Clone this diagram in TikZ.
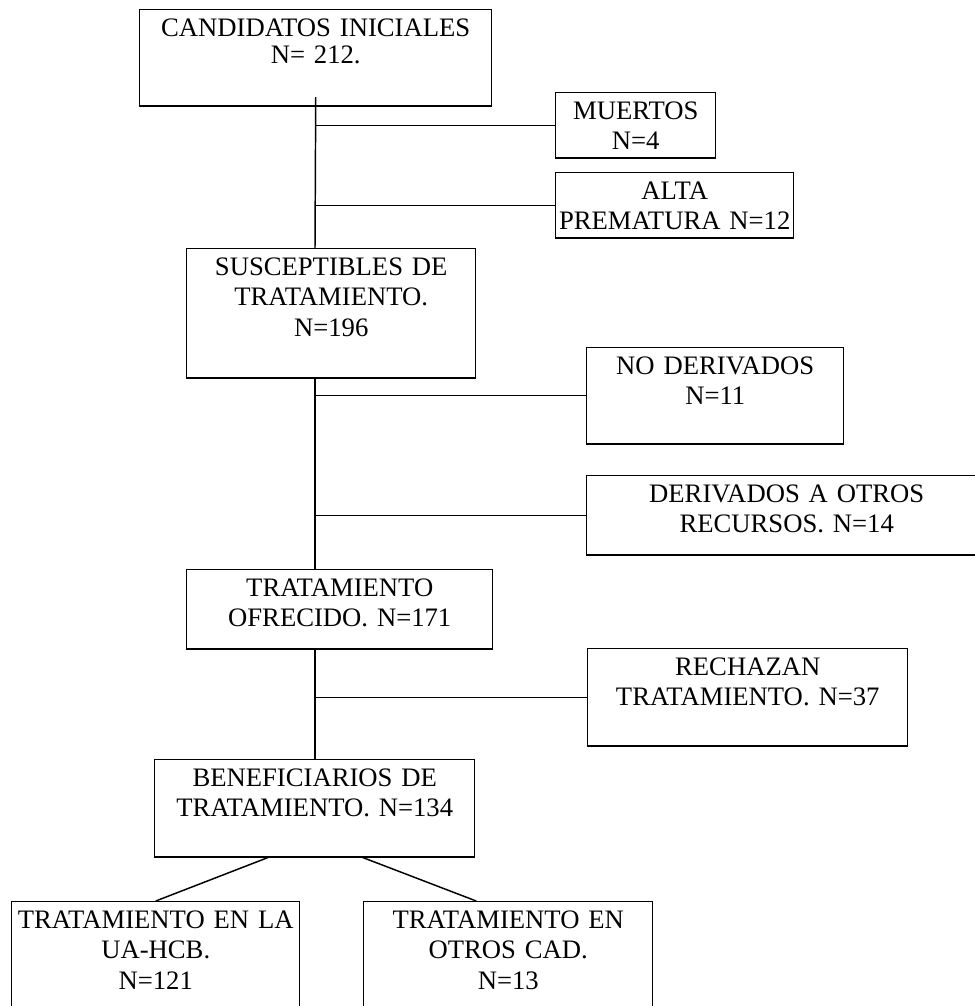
\documentclass[tikz,border=0pt]{standalone}
\usepackage{fontspec}
\setmainfont{Liberation Serif}
\usetikzlibrary{positioning,calc}

\begin{document}
\begin{tikzpicture}[x=0.75pt, y=-0.75pt,
    caja/.style 2 args={draw, line width=1.1pt, anchor=north west,
        inner xsep=0pt, inner ysep=0pt, align=center,
        text width=#1*0.75pt, text height=19.9pt, text depth=(#2-26.5)*0.75pt,
        font=\fontsize{20pt}{23pt}\selectfont},
    linea/.style={line width=1.1pt}]

    % Page size
    \useasboundingbox (0,0) rectangle (974,1006);

    % Main column
    \node[caja={352}{96}, font=\fontsize{20pt}{20.3pt}\selectfont] (cand) at (139,9) {CANDIDATOS INICIALES\\N= 212.};
    \node[caja={289}{129}] (susc) at (186,248) {SUSCEPTIBLES DE\\TRATAMIENTO.\\N=196};
    \node[caja={306}{79}] (ofre) at (186,569) {TRATAMIENTO\\OFRECIDO. N=171};
    \node[caja={320}{97}] (benef) at (154,759) {BENEFICIARIOS DE\\TRATAMIENTO. N=134};

    % Exclusions on the right
    \node[caja={160}{65}] (muer) at (555,92) {MUERTOS\\N=4};
    \node[caja={238}{65}] (alta) at (555,172) {ALTA\\PREMATURA N=12};
    \node[caja={257}{96}] (noder) at (586,347) {NO DERIVADOS\\N=11};
    \node[caja={400}{79}] (deriv) at (586,475) {DERIVADOS A OTROS\\RECURSOS. N=14};
    \node[caja={320}{97}] (rech) at (587,648) {RECHAZAN\\TRATAMIENTO. N=37};

    % Final split
    \node[caja={288}{120}] (ua) at (11,901) {TRATAMIENTO EN LA\\UA-HCB.\\N=121};
    \node[caja={289}{120}] (otros) at (363,901) {TRATAMIENTO EN\\OTROS CAD.\\N=13};

    % Vertical line
    \coordinate (eje) at (315,0);
    \draw[linea] ([yshift=7pt]cand.south) -- (eje |- susc.north);
    \draw[linea] (eje |- susc.south) -- (eje |- ofre.north);
    \draw[linea] (eje |- ofre.south) -- (eje |- benef.north);

    % Branches
    \draw[linea] (eje |- muer.west) -- (muer.west);
    \draw[linea] (eje |- alta.west) -- (alta.west);
    \draw[linea] (eje |- noder.west) -- (noder.west);
    \draw[linea] (eje |- deriv.west) -- (deriv.west);
    \draw[linea] (eje |- rech.west) -- (rech.west);

    % Diagonals
    \draw[linea] ([xshift=-35pt]benef.south) -- (ua.north);
    \draw[linea] ([xshift=36pt]benef.south) -- ([xshift=-24pt]otros.north);

\end{tikzpicture}
\end{document}
